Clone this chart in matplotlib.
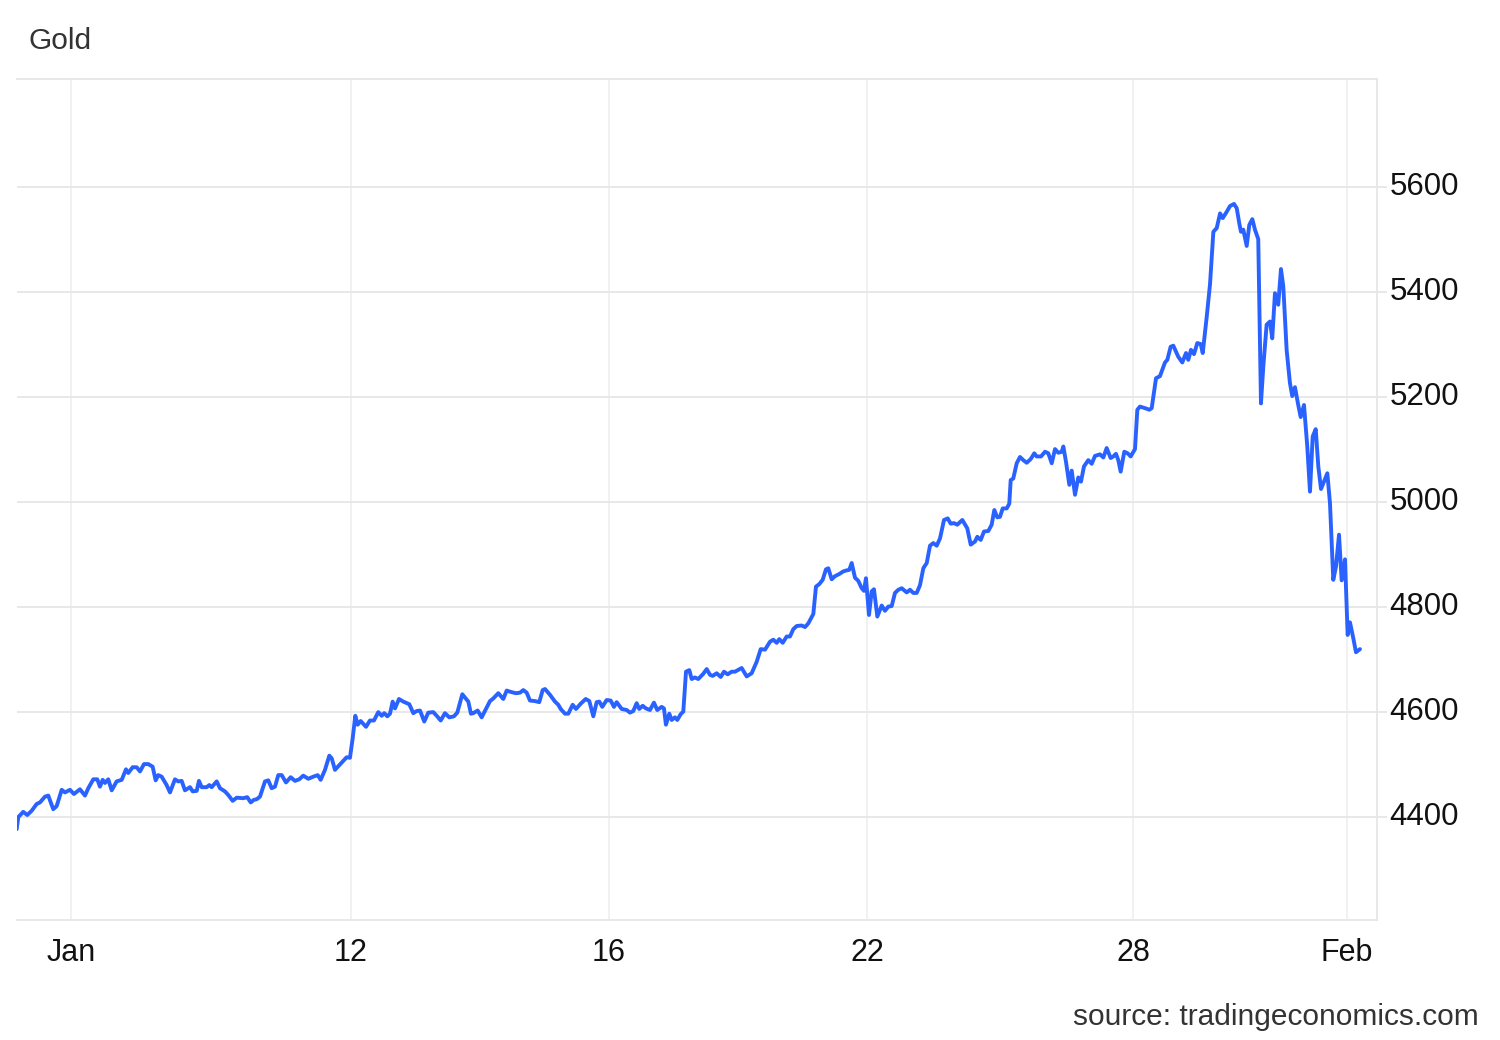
import matplotlib
matplotlib.use("Agg")
import matplotlib.pyplot as plt

# ---- data (x = trading-day position, y = gold price) ----
days = [
    1.817, 1.842, 1.919, 1.981, 2.049, 2.127, 2.178, 2.256, 2.307, 2.384,
    2.437, 2.515, 2.566, 2.643, 2.705, 2.798, 2.876, 2.927, 3.005, 3.067,
    3.108, 3.150, 3.186, 3.237, 3.290, 3.367, 3.445, 3.512, 3.547, 3.615,
    3.677, 3.729, 3.791, 3.857, 3.925, 3.972, 4.012, 4.065, 4.142, 4.194,
    4.271, 4.322, 4.375, 4.426, 4.504, 4.546, 4.608, 4.643, 4.685, 4.763,
    4.803, 4.840, 4.918, 4.969, 5.046, 5.098, 5.166, 5.228, 5.330, 5.392,
    5.445, 5.496, 5.538, 5.589, 5.667, 5.718, 5.770, 5.822, 5.873, 5.926,
    5.992, 6.065, 6.132, 6.198, 6.260, 6.338, 6.415, 6.484, 6.530, 6.597,
    6.664, 6.701, 6.752, 6.819, 6.881, 6.933, 6.984, 7.026, 7.067, 7.104,
    7.150, 7.233, 7.294, 7.356, 7.423, 7.476, 7.516, 7.563, 7.605, 7.646,
    7.682, 7.744, 7.811, 7.904, 7.966, 8.018, 8.070, 8.136, 8.198, 8.276,
    8.329, 8.391, 8.457, 8.524, 8.597, 8.648, 8.726, 8.819, 8.860, 8.896,
    8.964, 9.026, 9.093, 9.155, 9.206, 9.284, 9.361, 9.414, 9.491, 9.558,
    9.620, 9.671, 9.724, 9.775, 9.853, 9.919, 9.972, 10.008, 10.085, 10.163,
    10.214, 10.251, 10.318, 10.369, 10.437, 10.488, 10.561, 10.639, 10.695, 10.757,
    10.809, 10.850, 10.896, 10.964, 11.026, 11.077, 11.119, 11.197, 11.274, 11.325,
    11.376, 11.429, 11.469, 11.522, 11.573, 11.635, 11.697, 11.748, 11.817, 11.852,
    11.883, 11.935, 11.972, 12.023, 12.059, 12.111, 12.152, 12.194, 12.245, 12.282,
    12.333, 12.384, 12.462, 12.515, 12.566, 12.608, 12.670, 12.732, 12.783, 12.840,
    12.902, 12.953, 13.057, 13.135, 13.212, 13.290, 13.352, 13.419, 13.496, 13.547,
    13.600, 13.640, 13.693, 13.755, 13.806, 13.857, 13.910, 13.987, 14.039, 14.090,
    14.168, 14.209, 14.261, 14.313, 14.364, 14.400, 14.453, 14.504, 14.570, 14.632,
    14.685, 14.725, 14.763, 14.814, 14.865, 14.918, 14.953, 14.984, 15.031, 15.073,
    15.108, 15.160, 15.228, 15.279, 15.330, 15.383, 15.434, 15.485, 15.538, 15.616,
    15.667, 15.718, 15.771, 15.822, 15.873, 15.926, 15.977, 16.028, 16.081, 16.132,
    16.194, 16.251, 16.298, 16.349, 16.400, 16.478, 16.555, 16.608, 16.675, 16.710,
    16.763, 16.814, 16.881, 16.933, 16.974, 17.020, 17.062, 17.104, 17.166, 17.206,
    17.228, 17.268, 17.321, 17.372, 17.423, 17.476, 17.538, 17.594, 17.631, 17.698,
    17.760, 17.811, 17.864, 17.915, 17.966, 18.019, 18.044, 18.085, 18.137, 18.174,
    18.225, 18.276, 18.318, 18.364, 18.431, 18.484, 18.535, 18.612, 18.664, 18.716,
    18.778, 18.819, 18.860, 18.896, 18.933, 18.989, 19.041, 19.088, 19.155, 19.191,
    19.232, 19.310, 19.377, 19.414, 19.481, 19.542, 19.620, 19.656, 19.708, 19.749,
    19.826, 19.888, 19.946, 19.981, 20.023, 20.070, 20.121, 20.174, 20.205, 20.267,
    20.318, 20.370, 20.422, 20.474, 20.515, 20.577, 20.628, 20.690, 20.732, 20.772,
    20.798, 20.834, 20.887, 20.927, 20.974, 21.015, 21.066, 21.108, 21.144, 21.196,
    21.248, 21.283, 21.325, 21.376, 21.418, 21.454, 21.506, 21.557, 21.593, 21.635,
    21.686, 21.724, 21.775, 21.826, 21.868, 21.910, 21.957, 21.997, 22.039, 22.085,
    22.137, 22.178, 22.229, 22.271, 22.318, 22.359, 22.411, 22.452, 22.488, 22.539,
    22.581, 22.643,
]
prices = [
    4376, 4399, 4409, 4403, 4411, 4424, 4427, 4438, 4440, 4414,
    4420, 4451, 4446, 4451, 4443, 4452, 4440, 4454, 4471, 4471,
    4457, 4470, 4464, 4471, 4450, 4467, 4470, 4490, 4483, 4494,
    4494, 4486, 4500, 4500, 4495, 4469, 4479, 4476, 4460, 4446,
    4471, 4467, 4468, 4450, 4456, 4448, 4449, 4468, 4456, 4456,
    4460, 4456, 4467, 4454, 4448, 4441, 4430, 4436, 4435, 4437,
    4427, 4432, 4433, 4438, 4467, 4469, 4454, 4457, 4479, 4479,
    4465, 4475, 4468, 4471, 4478, 4472, 4476, 4479, 4470, 4489,
    4516, 4511, 4489, 4498, 4506, 4513, 4512, 4549, 4592, 4575,
    4582, 4571, 4583, 4583, 4599, 4592, 4597, 4591, 4596, 4619,
    4606, 4624, 4619, 4614, 4597, 4601, 4602, 4581, 4598, 4599,
    4592, 4583, 4597, 4589, 4591, 4598, 4633, 4619, 4596, 4597,
    4602, 4589, 4605, 4620, 4625, 4635, 4624, 4640, 4637, 4635,
    4636, 4641, 4636, 4621, 4620, 4618, 4641, 4643, 4632, 4619,
    4613, 4605, 4596, 4596, 4613, 4605, 4615, 4624, 4620, 4591,
    4618, 4619, 4609, 4622, 4621, 4609, 4618, 4605, 4603, 4598,
    4601, 4616, 4605, 4611, 4606, 4603, 4617, 4603, 4609, 4606,
    4575, 4596, 4584, 4589, 4584, 4595, 4600, 4676, 4679, 4662,
    4665, 4662, 4672, 4681, 4670, 4668, 4673, 4666, 4676, 4671,
    4676, 4676, 4683, 4667, 4673, 4695, 4719, 4718, 4733, 4737,
    4731, 4738, 4731, 4743, 4743, 4757, 4763, 4764, 4761, 4768,
    4786, 4838, 4843, 4851, 4871, 4873, 4852, 4858, 4862, 4867,
    4869, 4870, 4883, 4855, 4849, 4835, 4830, 4854, 4784, 4829,
    4833, 4781, 4802, 4792, 4800, 4801, 4826, 4832, 4835, 4827,
    4832, 4826, 4826, 4841, 4873, 4883, 4916, 4921, 4916, 4930,
    4965, 4968, 4958, 4959, 4956, 4965, 4949, 4918, 4924, 4933,
    4927, 4943, 4944, 4956, 4984, 4970, 4971, 4987, 4987, 4996,
    5041, 5044, 5073, 5085, 5079, 5074, 5081, 5092, 5086, 5086,
    5095, 5092, 5073, 5100, 5093, 5095, 5105, 5076, 5032, 5059,
    5013, 5046, 5038, 5067, 5079, 5072, 5087, 5090, 5084, 5102,
    5083, 5086, 5091, 5079, 5057, 5095, 5092, 5086, 5100, 5175,
    5181, 5178, 5175, 5178, 5235, 5239, 5265, 5270, 5295, 5297,
    5276, 5265, 5283, 5270, 5289, 5281, 5302, 5300, 5283, 5352,
    5414, 5514, 5521, 5549, 5540, 5552, 5563, 5567, 5559, 5530,
    5514, 5518, 5487, 5527, 5538, 5518, 5500, 5187, 5257, 5337,
    5343, 5311, 5397, 5375, 5443, 5410, 5289, 5226, 5201, 5218,
    5184, 5161, 5184, 5105, 5019, 5124, 5138, 5067, 5024, 5038,
    5054, 4997, 4851, 4876, 4937, 4850, 4890, 4746, 4770, 4740,
    4713, 4719,
]
tick_pos = [2.659, 7.0, 11.0, 15.0, 19.124, 22.442]
tick_labels = ["Jan", "12", "16", "22", "28", "Feb"]
y_ticks = [4400, 4600, 4800, 5000, 5200, 5400, 5600]

title = "Gold"
source = "source: tradingeconomics.com"

# ---- figure ----
plt.rcParams["font.family"] = ["Liberation Sans", "DejaVu Sans"]
fig = plt.figure(figsize=(15, 10.4), dpi=100)
ax = fig.add_axes([17 / 1500, 1 - 920 / 1040, (1377 - 17) / 1500, (920 - 79) / 1040])

ax.plot(days, prices, color="#2962ff", lw=2.8, solid_joinstyle="round",
        solid_capstyle="round", zorder=3)

ax.set_xlim(1.822, 22.907)
ax.set_ylim(4203, 5805)

ax.set_yticks(y_ticks)
ax.set_yticklabels([str(v) for v in y_ticks])
ax.yaxis.tick_right()
ax.set_xticks(tick_pos)
ax.set_xticklabels(tick_labels)

ax.grid(axis="y", color="#e6e6e6", lw=1.3, zorder=0)
ax.grid(axis="x", color="#eef0f4", lw=1.3, zorder=0)

ax.tick_params(axis="y", which="both", length=7, width=1.3, color="#e6e6e6",
               labelsize=22.5, labelcolor="#111111", pad=2, left=False, right=True)
ax.tick_params(axis="x", length=0, labelsize=22, labelcolor="#111111", pad=13)
for lbl in ax.get_yticklabels():
    lbl.set_verticalalignment("center")

ax.spines["left"].set_visible(False)
for side in ["top", "bottom", "right"]:
    ax.spines[side].set_color("#e6e6e6")
    ax.spines[side].set_linewidth(1.3)

fig.text(29 / 1500, 1 - 41 / 1040, title, fontsize=21.5, color="#333333",
         ha="left", va="center")
fig.text(1479 / 1500, 1 - 1017 / 1040, source, fontsize=21.5, color="#333333",
         ha="right", va="center")

fig.savefig("out.png", dpi=100, facecolor="white")
